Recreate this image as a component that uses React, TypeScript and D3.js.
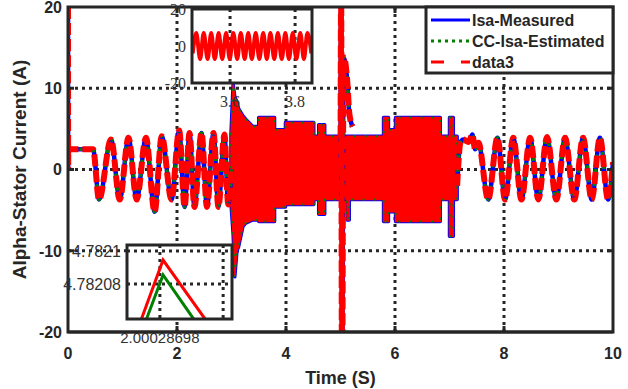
import { useEffect, useRef } from "react";
import * as d3 from "d3";

const W = 628;
const H = 389;

const xTicks = [0, 2, 4, 6, 8, 10];
const yTicks = [-20, -10, 0, 10, 20];
const gridX = [2, 4, 6, 8];
const gridY = [-10, 0, 10];
const seriesNames = ["Isa-Measured", "CC-Isa-Estimated", "data3"];

// slow oscillation before the step (extrema)
const startT = [0, 0.003, 0.006, 0.46, 0.57, 0.79, 0.95, 1.11, 1.26, 1.43, 1.59, 1.72, 1.9, 2.04, 2.14, 2.23, 2.32, 2.45, 2.55, 2.67, 2.76, 2.87, 2.94, 3.0];
const startV = [20, 0.3, 2.5, 2.5, -3.7, 3.7, -3.7, 3.9, -3.7, 3.9, -5.2, 4.1, -3.7, 4.8, -4.6, 4.5, -4.6, 4.5, -4.6, 4.5, -4.6, 4.3, -4.3, 0];

// transient at t = 5 s
const spikeT = [5.0, 5.012, 5.025, 5.035, 5.045, 5.06, 5.13, 5.16, 5.22];
const spikeV = [0, 22, -22, -22, 0, 13.8, 10.3, 7, 5.3];

// slow oscillation after the fast section
const endT = [7.14, 7.2, 7.25, 7.35, 7.42, 7.47, 7.53, 7.71, 7.88, 8.02, 8.17, 8.32, 8.48, 8.63, 8.79, 8.96, 9.12, 9.29, 9.45, 9.61, 9.76, 9.91, 10.0];
const endV = [-2, 3.3, 3.7, 3.4, 4.3, 2.5, 3.3, -3.7, 3.9, -3.7, 3.9, -3.7, 3.9, -3.7, 4.0, -3.7, 3.9, -3.7, 3.9, -3.7, 3.9, -3.7, 0.9];

// envelopes of the dense high-frequency sections
const band1T = [2.99, 3.03, 3.06, 3.1, 3.13, 3.21, 3.26, 3.39, 3.5, 3.5, 3.79, 3.79, 3.99, 3.99, 4.51, 4.51, 4.6, 4.6, 4.71, 4.71, 5.0];
const band1Hi = [4.3, 10.5, 9, 8.3, 7.5, 6.6, 6.2, 5.3, 5.3, 6.4, 6.4, 4.9, 4.9, 5.8, 5.8, 4.1, 4.1, 5.5, 5.5, 4.1, 4.1];
const band1Lo = [-4.1, -8, -13.2, -10, -9.5, -7, -6.6, -6.2, -6.2, -6.4, -6.4, -4.6, -4.6, -4.3, -4.3, -3.7, -3.7, -5.5, -5.5, -3.7, -3.7];

const band2T = [5.04, 5.12, 5.12, 5.16, 5.16, 5.79, 5.79, 5.88, 5.88, 6.01, 6.01, 6.83, 6.83, 7.0, 7.0, 7.07, 7.07, 7.14];
const band2Hi = [4.1, 4.1, 4.1, 4.1, 4.1, 4.1, 6.4, 6.4, 4.9, 4.9, 6.4, 6.4, 4.1, 4.1, 6.4, 6.4, 4.1, 4.1];
const band2Lo = [-3.7, -3.7, -6.2, -6.2, -3.7, -3.7, -6.4, -6.4, -5.2, -5.2, -6.4, -6.4, -3.7, -3.7, -8.2, -8.2, -3.7, -3.7];

// top inset (zoom on 3.5 - 3.85 s)
const insetXTicks = [3.6, 3.8];
const insetYTicks = [-20, 0, 20];
const insetT = [3.485, 3.496, 3.508, 3.519, 3.531, 3.542, 3.553, 3.565, 3.576, 3.588, 3.599, 3.61, 3.622, 3.633, 3.645, 3.656, 3.667, 3.679, 3.69, 3.702, 3.713, 3.724, 3.736, 3.747, 3.759, 3.77, 3.781, 3.793, 3.804, 3.816, 3.827, 3.838, 3.85];
const insetV = [-4, 7, -7, 7, -7, 7, -7, 7, -7, 7, -7, 7, -7, 7, -7, 7, -7, 7, -7, 7, -7, 7, -7, 7, -7, 7, -7, 7, -7, 7, -7, 7, -4];

// bottom inset (peak detail)
const peakXTicks = [2.00028698, 2.00028708];
const peakYTicks = [4.78208, 4.7821];
const peakRedT = [2.000286951, 2.000286985, 2.000287051];
const peakRedV = [4.782059, 4.7820945, 4.782059];
const peakGreenT = [2.000286959, 2.000286985, 2.000287033];
const peakGreenV = [4.782059, 4.7820855, 4.782059];

const SANS = "'Liberation Sans', Arial, sans-serif";
const SERIF = "'Liberation Serif', 'Times New Roman', serif";
const INK = "#262626";
const BLUE = "#0000ff";
const GREEN = "#008000";
const RED = "#ff0000";

const zip = (t: number[], v: number[]) => t.map((d, i) => [d, v[i]] as [number, number]);

export default function App() {
  const ref = useRef<SVGSVGElement | null>(null);

  useEffect(() => {
    const svg = d3.select(ref.current);
    svg.selectAll("*").remove();

    const m = { left: 68, right: 613, top: 7, bottom: 332 };
    const x = d3.scaleLinear().domain([0, 10]).range([m.left, m.right]);
    const y = d3.scaleLinear().domain([-20, 20]).range([m.bottom, m.top]);

    svg.append("rect").attr("width", W).attr("height", H).attr("fill", "#fff");

    const defs = svg.append("defs");
    defs
      .append("clipPath")
      .attr("id", "main-clip")
      .append("rect")
      .attr("x", m.left)
      .attr("y", m.top)
      .attr("width", m.right - m.left)
      .attr("height", m.bottom - m.top);

    // grid
    const grid = svg.append("g").attr("stroke", INK).attr("stroke-width", 3).attr("stroke-dasharray", "3 4");
    gridX.forEach((t) =>
      grid.append("line").attr("x1", x(t)).attr("x2", x(t)).attr("y1", m.top).attr("y2", m.bottom),
    );
    gridY.forEach((v) =>
      grid.append("line").attr("x1", m.left).attr("x2", m.right).attr("y1", y(v)).attr("y2", y(v)),
    );

    const plot = svg.append("g").attr("clip-path", "url(#main-clip)");
    const line = d3
      .line<[number, number]>()
      .x((d) => x(d[0]))
      .y((d) => y(d[1]))
      .curve(d3.curveMonotoneX);

    const bands = [
      { t: band1T, hi: band1Hi, lo: band1Lo },
      { t: band2T, hi: band2Hi, lo: band2Lo },
    ];
    bands.forEach((b) => {
      const a = d3
        .area<number>()
        .x((d) => x(d))
        .y0((_, i) => y(b.lo[i]))
        .y1((_, i) => y(b.hi[i]));
      plot
        .append("path")
        .attr("d", a(b.t) ?? "")
        .attr("fill", BLUE)
        .attr("stroke", BLUE)
        .attr("stroke-width", 3.5)
        .attr("stroke-linejoin", "round");
      plot
        .append("path")
        .attr("d", a(b.t) ?? "")
        .attr("fill", RED)
        .attr("stroke", RED)
        .attr("stroke-width", 1.5);
      plot
        .append("path")
        .attr("d", a(b.t) ?? "")
        .attr("fill", "none")
        .attr("stroke", GREEN)
        .attr("stroke-width", 2)
        .attr("stroke-dasharray", "2 9");
    });

    const parts = [zip(startT, startV), zip(spikeT, spikeV), zip(endT, endV)];
    parts.forEach((p) => {
      const d = line(p) ?? "";
      plot.append("path").attr("d", d).attr("fill", "none").attr("stroke", BLUE).attr("stroke-width", 4.5);
      plot
        .append("path")
        .attr("d", d)
        .attr("fill", "none")
        .attr("stroke", GREEN)
        .attr("stroke-width", 3.5)
        .attr("stroke-dasharray", "3 4");
      plot
        .append("path")
        .attr("d", d)
        .attr("fill", "none")
        .attr("stroke", RED)
        .attr("stroke-width", 6)
        .attr("stroke-dasharray", "12 4");
    });

    // main box and ticks
    const frame = svg.append("g").attr("stroke", INK).attr("stroke-width", 3).attr("fill", "none");
    frame
      .append("rect")
      .attr("x", m.left)
      .attr("y", m.top)
      .attr("width", m.right - m.left)
      .attr("height", m.bottom - m.top);
    gridX.forEach((t) => {
      frame.append("line").attr("x1", x(t)).attr("x2", x(t)).attr("y1", m.bottom).attr("y2", m.bottom - 6);
      frame.append("line").attr("x1", x(t)).attr("x2", x(t)).attr("y1", m.top).attr("y2", m.top + 6);
    });
    gridY.forEach((v) => {
      frame.append("line").attr("x1", m.left).attr("x2", m.left + 6).attr("y1", y(v)).attr("y2", y(v));
      frame.append("line").attr("x1", m.right).attr("x2", m.right - 6).attr("y1", y(v)).attr("y2", y(v));
    });

    const labels = svg
      .append("g")
      .attr("font-family", SANS)
      .attr("font-weight", "bold")
      .attr("font-size", 16)
      .attr("fill", INK);
    xTicks.forEach((t) =>
      labels.append("text").attr("x", x(t)).attr("y", 359).attr("text-anchor", "middle").text(String(t)),
    );
    yTicks.forEach((v) =>
      labels
        .append("text")
        .attr("x", 62)
        .attr("y", y(v))
        .attr("dy", "0.36em")
        .attr("text-anchor", "end")
        .text(String(v)),
    );
    labels
      .append("text")
      .attr("x", x(5))
      .attr("y", 384)
      .attr("text-anchor", "middle")
      .attr("font-size", 18)
      .text("Time (S)");
    labels
      .append("text")
      .attr("transform", `translate(26,${y(0)}) rotate(-90)`)
      .attr("text-anchor", "middle")
      .attr("font-size", 19)
      .text("Alpha-Stator Current (A)");

    // top inset
    const ix = d3.scaleLinear().domain([3.483, 3.852]).range([192, 312]);
    const iy = d3.scaleLinear().domain([-20, 20]).range([83, 9]);
    defs
      .append("clipPath")
      .attr("id", "inset-clip")
      .append("rect")
      .attr("x", 192)
      .attr("y", 9)
      .attr("width", 120)
      .attr("height", 74);
    const ig = svg.append("g");
    ig.append("rect").attr("x", 192).attr("y", 9).attr("width", 120).attr("height", 74).attr("fill", "#fff");
    insetXTicks.forEach((t) =>
      ig
        .append("line")
        .attr("x1", ix(t))
        .attr("x2", ix(t))
        .attr("y1", 9)
        .attr("y2", 83)
        .attr("stroke", INK)
        .attr("stroke-width", 3)
        .attr("stroke-dasharray", "3 4"),
    );
    const iline = d3
      .line<[number, number]>()
      .x((d) => ix(d[0]))
      .y((d) => iy(d[1]))
      .curve(d3.curveMonotoneX);
    ig.append("path")
      .attr("clip-path", "url(#inset-clip)")
      .attr("d", iline(zip(insetT, insetV)) ?? "")
      .attr("fill", "none")
      .attr("stroke", RED)
      .attr("stroke-width", 4);
    ig.append("rect")
      .attr("x", 192)
      .attr("y", 9)
      .attr("width", 120)
      .attr("height", 74)
      .attr("fill", "none")
      .attr("stroke", INK)
      .attr("stroke-width", 3);
    const ilab = ig.append("g").attr("font-family", SERIF).attr("font-size", 16).attr("fill", "#333");
    insetXTicks.forEach((t) =>
      ilab.append("text").attr("x", ix(t)).attr("y", 107).attr("text-anchor", "middle").text(t.toFixed(1)),
    );
    insetYTicks.forEach((v) =>
      ilab
        .append("text")
        .attr("x", 186)
        .attr("y", iy(v))
        .attr("dy", "0.35em")
        .attr("text-anchor", "end")
        .text(String(v)),
    );

    // bottom-left inset
    const px = d3.scaleLinear().domain([2.000286928, 2.000287094]).range([127, 232]);
    const py = d3.scaleLinear().domain([4.7820588, 4.7821036]).range([319, 245]);
    defs
      .append("clipPath")
      .attr("id", "peak-clip")
      .append("rect")
      .attr("x", 127)
      .attr("y", 245)
      .attr("width", 105)
      .attr("height", 74);
    const pg = svg.append("g");
    pg.append("rect").attr("x", 127).attr("y", 245).attr("width", 105).attr("height", 74).attr("fill", "#fff");
    const pgrid = pg.append("g").attr("stroke", INK).attr("stroke-width", 3).attr("stroke-dasharray", "3 4");
    peakXTicks.forEach((t) =>
      pgrid.append("line").attr("x1", px(t)).attr("x2", px(t)).attr("y1", 245).attr("y2", 319),
    );
    peakYTicks.forEach((v) =>
      pgrid.append("line").attr("x1", 127).attr("x2", 232).attr("y1", py(v)).attr("y2", py(v)),
    );
    const pline = d3
      .line<[number, number]>()
      .x((d) => px(d[0]))
      .y((d) => py(d[1]));
    pg.append("path")
      .attr("clip-path", "url(#peak-clip)")
      .attr("d", pline(zip(peakRedT, peakRedV)) ?? "")
      .attr("fill", "none")
      .attr("stroke", RED)
      .attr("stroke-width", 3);
    pg.append("path")
      .attr("clip-path", "url(#peak-clip)")
      .attr("d", pline(zip(peakGreenT, peakGreenV)) ?? "")
      .attr("fill", "none")
      .attr("stroke", GREEN)
      .attr("stroke-width", 3);
    pg.append("rect")
      .attr("x", 127)
      .attr("y", 245)
      .attr("width", 105)
      .attr("height", 74)
      .attr("fill", "none")
      .attr("stroke", INK)
      .attr("stroke-width", 3);
    const plab = pg.append("g").attr("font-family", SANS).attr("font-size", 16).attr("fill", "#333");
    peakYTicks.forEach((v) =>
      plab
        .append("text")
        .attr("x", 121)
        .attr("y", py(v))
        .attr("dy", "0.36em")
        .attr("text-anchor", "end")
        .text(String(v)),
    );
    plab
      .append("text")
      .attr("x", px(peakXTicks[0]))
      .attr("y", 343)
      .attr("font-size", 15)
      .attr("text-anchor", "middle")
      .text(String(peakXTicks[0]));

    // redraw main bottom border over the inset label
    svg
      .append("line")
      .attr("x1", m.left)
      .attr("x2", m.right)
      .attr("y1", m.bottom)
      .attr("y2", m.bottom)
      .attr("stroke", INK)
      .attr("stroke-width", 3);

    // legend
    const lg = svg.append("g");
    lg.append("rect")
      .attr("x", 426)
      .attr("y", 7)
      .attr("width", 187)
      .attr("height", 66)
      .attr("fill", "#fff")
      .attr("stroke", INK)
      .attr("stroke-width", 3);
    const styles = [
      { color: BLUE, dash: null as string | null },
      { color: GREEN, dash: "3 4" },
      { color: RED, dash: "13 17" },
    ];
    seriesNames.forEach((name, i) => {
      const ly = 20 + i * 21;
      const l = lg
        .append("line")
        .attr("x1", 431)
        .attr("x2", 470)
        .attr("y1", ly)
        .attr("y2", ly)
        .attr("stroke", styles[i].color)
        .attr("stroke-width", 3);
      if (styles[i].dash) l.attr("stroke-dasharray", styles[i].dash);
      lg.append("text")
        .attr("x", 472)
        .attr("y", ly)
        .attr("dy", "0.36em")
        .attr("font-family", SANS)
        .attr("font-weight", "bold")
        .attr("font-size", 16)
        .attr("fill", INK)
        .text(name);
    });
  }, []);

  return (
    <svg
      ref={ref}
      width={W}
      height={H}
      style={{ position: "absolute", left: 0, top: 0, display: "block" }}
    />
  );
}
